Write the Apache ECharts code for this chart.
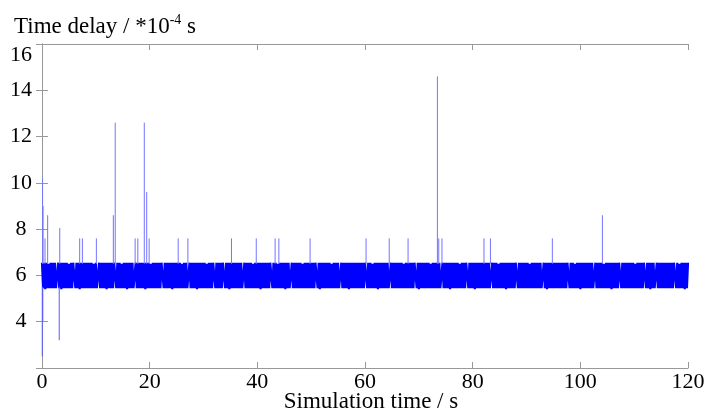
<!DOCTYPE html>
<html>
<head>
<meta charset="utf-8">
<script src="https://cdn.jsdelivr.net/npm/echarts@6/dist/echarts.min.js"></script>
<style>html,body{margin:0;padding:0;background:#fff;}#c{width:708px;height:416px;}</style>
</head>
<body>
<div id="c"></div>
<script>
// ---- data ----
const xTicks = [0, 20, 40, 60, 80, 100, 120];
const yTicks = [4, 6, 8, 10, 12, 14, 16];
const sampleStep = 0.2; // s between samples of the delay band
// estimated delay samples (10^-4 s), dense band between ~5.45 and ~6.55
const delayBand = [
6.55,5.45,6.55,5.4,6.55,5.45,6.5,5.45,6.55,5.45,6.55,5.45,6.55,5.45,5.45,6.55,5.45,6.55,5.4,6.55,
5.45,6.55,5.45,6.55,5.45,6.5,5.45,6.55,5.45,6.55,6.55,5.45,6.55,5.45,6.55,5.4,6.55,5.45,6.55,5.45,
6.55,5.45,6.55,5.45,6.55,5.45,6.55,5.45,6.5,5.45,6.55,5.45,5.45,6.55,5.45,6.55,5.45,6.55,5.45,6.55,
5.4,6.55,5.45,6.55,5.45,6.55,5.45,6.55,6.55,5.45,6.55,5.45,6.55,5.45,6.5,5.45,6.55,5.45,6.55,5.4,
6.55,5.45,6.55,5.45,6.55,5.45,5.45,6.55,5.45,6.55,5.45,6.55,5.45,6.55,5.45,6.55,5.4,6.55,5.45,6.55,
5.45,6.5,5.45,6.55,5.45,6.55,5.45,6.55,5.45,6.55,5.45,6.55,6.55,5.45,6.55,5.45,6.55,5.45,6.55,5.45,
6.55,5.4,6.55,5.45,6.55,5.45,6.55,5.45,6.55,5.45,6.5,5.45,6.55,5.45,6.55,5.45,5.45,6.55,5.45,6.55,
5.45,6.55,5.45,6.55,5.4,6.55,5.45,6.55,5.45,6.55,5.45,6.55,5.45,6.5,5.45,6.55,5.45,6.55,5.45,6.55,
6.55,5.45,6.55,5.45,6.55,5.45,6.55,5.45,6.55,6.55,5.45,6.55,5.45,6.55,5.4,6.55,5.45,6.55,5.45,6.55,
5.45,6.55,5.45,6.55,5.45,6.55,5.45,5.45,6.55,5.45,6.55,5.45,6.55,5.45,6.55,5.45,6.5,5.45,6.55,5.45,
6.55,5.45,6.55,5.4,6.55,5.45,6.55,5.45,6.55,5.45,6.55,5.45,6.55,6.55,5.45,6.55,5.45,6.55,5.45,6.5,
5.45,6.55,5.45,6.55,5.45,6.55,5.4,6.55,5.45,6.55,5.45,5.45,6.55,5.45,6.55,5.45,6.55,5.45,6.55,5.45,
6.55,5.45,6.5,5.45,6.55,5.45,6.55,5.45,6.55,5.45,6.55,5.45,6.55,5.45,6.55,6.55,5.45,6.55,5.4,6.55,
5.45,6.55,5.45,6.55,5.45,6.55,5.45,6.55,5.45,6.5,5.45,6.55,5.45,6.55,5.45,6.55,5.45,5.45,6.55,5.45,
6.55,5.45,6.55,5.45,6.55,5.4,6.55,5.45,6.55,5.45,6.55,5.45,6.55,5.45,6.55,5.45,6.55,5.45,6.55,5.45,
6.55,6.55,5.45,6.55,5.45,6.55,5.45,6.5,5.45,6.55,5.45,6.55,5.4,6.55,5.45,6.55,5.45,6.55,5.45,6.55,
5.45,6.55,5.45,5.45,6.55,5.45,6.55,5.45,6.55,5.45,6.55,5.45,6.55,5.45,6.55,5.45,6.5,5.45,6.55,5.45,
6.55,5.45,6.55,5.45,6.55,5.45,6.55,6.55,5.45,6.55,5.4,6.55,5.45,6.55,5.45,6.55,5.45,6.55,5.45,6.55,
5.45,6.5,5.45,6.55,5.45,6.55,5.45,6.55,5.45,6.55,5.45,5.45,6.55,5.45,6.55,5.45,6.55,5.45,6.55,5.4,
6.55,5.45,6.55,5.45,6.55,5.45,6.55,5.45,6.5,5.45,6.55,5.45,6.55,5.45,6.55,6.55,5.45,6.55,5.45,6.55,
5.45,6.55,5.4,6.55,5.45,6.55,5.45,6.55,5.45,6.55,5.45,6.55,5.45,6.55,5.45,6.55,5.45,5.45,6.55,5.45,
6.55,5.45,6.55,5.45,6.5,5.45,6.55,5.45,6.55,5.45,6.55,5.4,6.55,5.45,6.55,5.45,6.55,5.45,6.55,5.45,
6.55,6.55,5.45,6.55,5.45,6.55,5.45,6.55,5.45,6.55,5.45,6.55,5.45,6.5,5.45,6.55,5.45,6.55,5.45,6.55,
5.45,6.55,5.45,6.55,5.45,5.45,6.55,5.45,6.55,5.4,6.55,5.45,6.55,5.45,6.55,5.45,6.55,5.45,6.55,5.45,
6.55,5.45,6.55,5.45,6.55,5.45,6.55,5.45,6.55,6.55,5.45,6.55,5.45,6.55,5.45,6.5,5.45,6.55,5.45,6.55,
5.4,6.55,5.45,6.55,5.45,6.55,5.45,6.55,5.45,6.55,5.45,6.55,5.45,5.45,6.55,5.45,6.55,5.45,6.55,5.45,
6.55,5.45,6.5,5.45,6.55,5.45,6.55,5.45,6.55,5.4,6.55,5.45,6.55,5.45,6.55,5.45,6.55,6.55,5.45,6.55,
5.45,6.55,5.45,6.55,5.45,6.55,5.45,6.55,5.45,6.55,5.45,6.5,5.45,6.55,5.45,6.55,5.45,6.55,5.45,6.55,
6.55,5.45,6.55,5.45,6.55,5.4,6.55,5.45,6.55,5.45,5.45,6.55,5.45,6.55,5.45,6.55,5.45,6.55,5.45,6.55,
5.45,6.55,5.45,6.55,5.45,6.55,5.45,6.55,6.55,5.45,6.55,5.45,6.5,5.45,6.55,5.45,6.55,5.4,6.55,5.45,6.55
];
// occasional upward delay spikes: time (s), peak (10^-4 s)
const spikeTimes = [0.10, 0.20, 0.56, 1.05, 3.30, 7.0, 7.5, 10.1, 13.25, 13.6, 17.3, 17.8, 19.0, 19.45, 19.9,
  25.3, 27.1, 35.2, 39.8, 43.3, 44.0, 49.8, 60.2, 64.5, 68.0, 73.45, 73.7, 74.3, 82.1, 83.3, 94.8, 104.1];
const spikePeaks = [10.2, 9.0, 7.6, 8.6, 8.05, 7.6, 7.6, 7.6, 8.6, 12.6, 7.6, 7.6, 12.6, 9.6, 7.6,
  7.6, 7.6, 7.6, 7.6, 7.6, 7.6, 7.6, 7.6, 7.6, 7.6, 14.6, 7.6, 7.6, 7.6, 7.6, 7.6, 8.6];
// downward dips: time (s), minimum (10^-4 s)
const dipTimes = [0.05, 0.15, 3.2];
const dipLows = [2.5, 4.0, 3.2];
const bandTop = 6.5, bandBottom = 5.5;

// ---- build ----
const bandData = delayBand.map((v, i) => [i * sampleStep, v]);
const spikeData = spikeTimes.map((t, i) => [t, spikePeaks[i], bandTop]);
const dipData = dipTimes.map((t, i) => [t, dipLows[i], bandBottom]);

const FONT = 'Liberation Serif';
const AX = '#999999';

function stickRender(color) {
  return function (params, api) {
    const p0 = api.coord([api.value(0), api.value(2)]);
    const p1 = api.coord([api.value(0), api.value(1)]);
    return { type: 'line', shape: { x1: p0[0], y1: p0[1], x2: p1[0], y2: p1[1] },
      style: { stroke: color, lineWidth: 1 } };
  };
}

const chart = echarts.init(document.getElementById('c'), null, { renderer: 'canvas' });
chart.setOption({
  animation: false,
  backgroundColor: '#fff',
  title: {
    left: 14, top: 13, padding: 0,
    text: 'Time delay / *10{sup|-4} s',
    textStyle: {
      fontFamily: FONT, fontSize: 23, fontWeight: 'normal', color: '#000', lineHeight: 28,
      rich: { sup: { fontFamily: FONT, fontSize: 14, color: '#000', verticalAlign: 'top', lineHeight: 18 } }
    }
  },
  grid: { left: 42, right: 20, top: 44, bottom: 48, containLabel: false, outerBoundsMode: 'none' },
  xAxis: [{
    type: 'value', min: xTicks[0], max: xTicks[xTicks.length - 1], interval: 20, position: 'bottom',
    name: 'Simulation time / s', nameLocation: 'middle', nameGap: 22, nameMoveOverlap: false,
    nameTextStyle: { fontFamily: FONT, fontSize: 23, color: '#000', padding: [0, 0, 0, 12] },
    axisLine: { show: true, lineStyle: { color: AX, width: 1 } },
    axisTick: { show: true, inside: true, length: 6, lineStyle: { color: AX } },
    axisLabel: { fontFamily: FONT, fontSize: 22, color: '#000', margin: 3 },
    splitLine: { show: false }
  }, {
    type: 'value', min: xTicks[0], max: xTicks[xTicks.length - 1], interval: 20, position: 'top',
    axisLine: { show: true, lineStyle: { color: AX, width: 1 } },
    axisTick: { show: true, inside: true, length: 6, lineStyle: { color: AX } },
    axisLabel: { show: false }, splitLine: { show: false }
  }],
  yAxis: [{
    type: 'value', min: 2, max: yTicks[yTicks.length - 1], interval: 2, position: 'left',
    axisLine: { show: true, lineStyle: { color: AX, width: 1 } },
    axisTick: { show: true, inside: true, length: 6, lineStyle: { color: AX } },
    axisLabel: { fontFamily: FONT, fontSize: 22, color: '#000', margin: 21, align: 'center',
      showMinLabel: false, verticalAlignMaxLabel: 'top' },
    splitLine: { show: false }
  }, {
    type: 'value', min: 2, max: yTicks[yTicks.length - 1], interval: 2, position: 'right',
    axisLine: { show: true, lineStyle: { color: AX, width: 1 } },
    axisTick: { show: true, inside: true, length: 6, lineStyle: { color: AX } },
    axisLabel: { show: false }, splitLine: { show: false }
  }],
  series: [{
    type: 'line', data: bandData, symbol: 'none', sampling: null,
    lineStyle: { color: '#0000ff', width: 2.2, join: 'bevel' }, z: 2
  }, {
    type: 'custom', data: spikeData, renderItem: stickRender('#7474ff'), z: 3,
    encode: { x: 0, y: 1 }
  }, {
    type: 'custom', data: dipData, renderItem: stickRender('#5a5aff'), z: 3,
    encode: { x: 0, y: 1 }
  }]
});
</script>
</body>
</html>
